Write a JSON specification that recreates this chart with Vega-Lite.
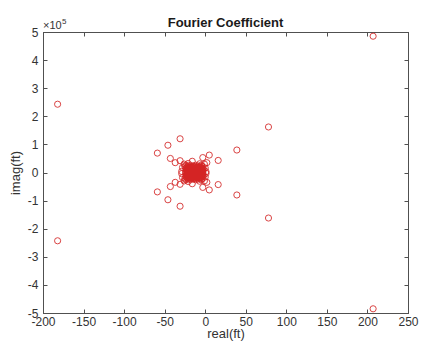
{
  "$schema": "https://vega.github.io/schema/vega-lite/v6.json",
  "autosize": "none",
  "width": 365,
  "height": 281,
  "padding": {"left": 43, "top": 32, "right": 22, "bottom": 38},
  "background": "white",
  "config": {
    "view": {"stroke": "#505050", "strokeWidth": 1},
    "font": "Liberation Sans",
    "axis": {"grid": false, "domainColor": "#505050", "tickColor": "#505050", "labelColor": "#333333", "labelFont": "Liberation Sans", "labelFontSize": 12, "titleFont": "Liberation Sans", "titleFontSize": 13, "titleFontWeight": "normal", "titleColor": "#333333", "labelFlush": false, "labelOverlap": false}
  },
  "title": {"text": "Fourier Coefficient", "fontSize": 13, "fontWeight": "bold", "font": "Liberation Sans", "color": "#1a1a1a", "offset": 5, "dy": 17, "anchor": "middle"},
  "data": {"values": [
    {"re": 207, "im": 485000}, {"re": 207, "im": -485000},
    {"re": -182, "im": 243000}, {"re": -182, "im": -243000},
    {"re": 78, "im": 162000}, {"re": 78, "im": -162000},
    {"re": 39, "im": 80000}, {"re": 39, "im": -80000},
    {"re": -31, "im": 120000}, {"re": -31, "im": -120000},
    {"re": -46, "im": 97000}, {"re": -46, "im": -97000},
    {"re": -59, "im": 69000}, {"re": -59, "im": -69000},
    {"re": -43, "im": 50000}, {"re": -43, "im": -50000},
    {"re": -37, "im": 35000}, {"re": -37, "im": -35000},
    {"re": -31, "im": 42000}, {"re": -31, "im": -42000},
    {"re": -3, "im": 53000}, {"re": -3, "im": -53000},
    {"re": 5, "im": 62000}, {"re": 5, "im": -62000},
    {"re": 16, "im": 43000}, {"re": 16, "im": -43000},
    {"re": 2, "im": 35000}, {"re": 2, "im": -35000},
    {"re": -16, "im": 40000}, {"re": -16, "im": -40000},
    {"re": -26, "im": 30000}, {"re": -26, "im": -30000},
    {"re": -28, "im": 18000}, {"re": -28, "im": -18000},
    {"re": -1, "im": 30000}, {"re": -1, "im": -30000},
    {"re": 0, "im": 16000}, {"re": 0, "im": -16000},
    {"re": -29, "im": 4000}, {"re": -29, "im": -4000},
    {"re": 1, "im": 3000}, {"re": 1, "im": -3000},
    {"re": -7, "im": 31000}, {"re": -7, "im": -31000},
    {"re": -21, "im": 32000}, {"re": -21, "im": -32000},
    {"re": -24, "im": 0}, {"re": -21, "im": 0}, {"re": -18, "im": 0}, {"re": -15, "im": 0},
    {"re": -12, "im": 0}, {"re": -9, "im": 0}, {"re": -6, "im": 0}, {"re": -3, "im": 0},
    {"re": -24, "im": 5000}, {"re": -21, "im": 6000}, {"re": -18, "im": 4000}, {"re": -15, "im": 5000},
    {"re": -12, "im": 6000}, {"re": -9, "im": 4000}, {"re": -6, "im": 5000}, {"re": -3, "im": 6000},
    {"re": -24, "im": -5000}, {"re": -21, "im": -6000}, {"re": -18, "im": -4000}, {"re": -15, "im": -5000},
    {"re": -12, "im": -6000}, {"re": -9, "im": -4000}, {"re": -6, "im": -5000}, {"re": -3, "im": -6000},
    {"re": -23, "im": 10000}, {"re": -20, "im": 11000}, {"re": -17, "im": 9000}, {"re": -14, "im": 10000},
    {"re": -11, "im": 11000}, {"re": -8, "im": 9000}, {"re": -5, "im": 10000}, {"re": -2, "im": 11000},
    {"re": -23, "im": -10000}, {"re": -20, "im": -11000}, {"re": -17, "im": -9000}, {"re": -14, "im": -10000},
    {"re": -11, "im": -11000}, {"re": -8, "im": -9000}, {"re": -5, "im": -10000}, {"re": -2, "im": -11000},
    {"re": -24, "im": 15000}, {"re": -21, "im": 14000}, {"re": -18, "im": 16000}, {"re": -15, "im": 15000},
    {"re": -12, "im": 14000}, {"re": -9, "im": 16000}, {"re": -6, "im": 15000}, {"re": -3, "im": 14000},
    {"re": -24, "im": -15000}, {"re": -21, "im": -14000}, {"re": -18, "im": -16000}, {"re": -15, "im": -15000},
    {"re": -12, "im": -14000}, {"re": -9, "im": -16000}, {"re": -6, "im": -15000}, {"re": -3, "im": -14000},
    {"re": -25, "im": 21000}, {"re": -22, "im": 20000}, {"re": -19, "im": 19000}, {"re": -16, "im": 20000},
    {"re": -13, "im": 21000}, {"re": -10, "im": 19000}, {"re": -7, "im": 20000}, {"re": -4, "im": 22000},
    {"re": -25, "im": -21000}, {"re": -22, "im": -20000}, {"re": -19, "im": -19000}, {"re": -16, "im": -20000},
    {"re": -13, "im": -21000}, {"re": -10, "im": -19000}, {"re": -7, "im": -20000}, {"re": -4, "im": -22000},
    {"re": -24, "im": 26000}, {"re": -18, "im": 25000}, {"re": -12, "im": 26000}, {"re": -5, "im": 26000},
    {"re": -24, "im": -26000}, {"re": -18, "im": -25000}, {"re": -12, "im": -26000}, {"re": -5, "im": -26000},
    {"re": -22, "im": 2000}, {"re": -19, "im": 3000}, {"re": -16, "im": 2000}, {"re": -13, "im": 3000},
    {"re": -10, "im": 2000}, {"re": -7, "im": 3000}, {"re": -4, "im": 2000},
    {"re": -22, "im": -2000}, {"re": -19, "im": -3000}, {"re": -16, "im": -2000}, {"re": -13, "im": -3000},
    {"re": -10, "im": -2000}, {"re": -7, "im": -3000}, {"re": -4, "im": -2000},
    {"re": -22, "im": 8000}, {"re": -19, "im": 8000}, {"re": -16, "im": 7000}, {"re": -13, "im": 8000},
    {"re": -10, "im": 8000}, {"re": -7, "im": 7000}, {"re": -4, "im": 8000},
    {"re": -22, "im": -8000}, {"re": -19, "im": -8000}, {"re": -16, "im": -7000}, {"re": -13, "im": -8000},
    {"re": -10, "im": -8000}, {"re": -7, "im": -7000}, {"re": -4, "im": -8000},
    {"re": -22, "im": 13000}, {"re": -19, "im": 12000}, {"re": -16, "im": 13000}, {"re": -13, "im": 12000},
    {"re": -10, "im": 13000}, {"re": -7, "im": 12000}, {"re": -4, "im": 13000},
    {"re": -22, "im": -13000}, {"re": -19, "im": -12000}, {"re": -16, "im": -13000}, {"re": -13, "im": -12000},
    {"re": -10, "im": -13000}, {"re": -7, "im": -12000}, {"re": -4, "im": -13000},
    {"re": -23, "im": 18000}, {"re": -20, "im": 17000}, {"re": -17, "im": 18000}, {"re": -14, "im": 17000},
    {"re": -11, "im": 18000}, {"re": -8, "im": 17000}, {"re": -5, "im": 18000},
    {"re": -23, "im": -18000}, {"re": -20, "im": -17000}, {"re": -17, "im": -18000}, {"re": -14, "im": -17000},
    {"re": -11, "im": -18000}, {"re": -8, "im": -17000}, {"re": -5, "im": -18000},
    {"re": -21, "im": 23000}, {"re": -15, "im": 23000}, {"re": -9, "im": 23000},
    {"re": -21, "im": -23000}, {"re": -15, "im": -23000}, {"re": -9, "im": -23000}
  ]},
  "layer": [
    {
      "mark": {"type": "point", "shape": "circle", "filled": false, "size": 38, "stroke": "#d42424", "strokeWidth": 1, "opacity": 0.85},
      "encoding": {
        "x": {"field": "re", "type": "quantitative", "scale": {"domain": [-200, 250], "nice": false, "zero": false},
              "axis": {"orient": "bottom", "values": [-200, -150, -100, -50, 0, 50, 100, 150, 200, 250], "tickSize": -4, "labelPadding": 7, "labelExpr": "'' + datum.value", "title": "real(ft)", "titlePadding": 0}},
        "y": {"field": "im", "type": "quantitative", "scale": {"domain": [-500000, 500000], "nice": false, "zero": false},
              "axis": {"orient": "left", "values": [-500000, -400000, -300000, -200000, -100000, 0, 100000, 200000, 300000, 400000, 500000], "tickSize": -4, "labelPadding": 9, "labelExpr": "'' + datum.value / 100000", "title": "imag(ft)", "titlePadding": 5}}
      }
    },
    {
      "data": {"values": [{"t": "×10", "s": "5"}]},
      "encoding": {
        "x": {"datum": -200, "type": "quantitative", "scale": {"domain": [-200, 250], "nice": false, "zero": false},
              "axis": {"orient": "top", "values": [-200, -150, -100, -50, 0, 50, 100, 150, 200, 250], "tickSize": -4, "labels": false, "title": null}},
        "y": {"datum": 500000, "type": "quantitative", "scale": {"domain": [-500000, 500000], "nice": false, "zero": false},
              "axis": {"orient": "right", "values": [-500000, -400000, -300000, -200000, -100000, 0, 100000, 200000, 300000, 400000, 500000], "tickSize": -4, "labels": false, "title": null}}
      },
      "layer": [
        {"mark": {"type": "text", "align": "left", "baseline": "bottom", "dy": -1, "fontSize": 11, "font": "Liberation Sans", "color": "#333333"},
         "encoding": {"text": {"field": "t"}}},
        {"mark": {"type": "text", "align": "left", "baseline": "bottom", "dx": 19, "dy": -6, "fontSize": 8, "font": "Liberation Sans", "color": "#333333"},
         "encoding": {"text": {"field": "s"}}}
      ]
    }
  ],
  "resolve": {"scale": {"x": "independent", "y": "independent"}}
}
